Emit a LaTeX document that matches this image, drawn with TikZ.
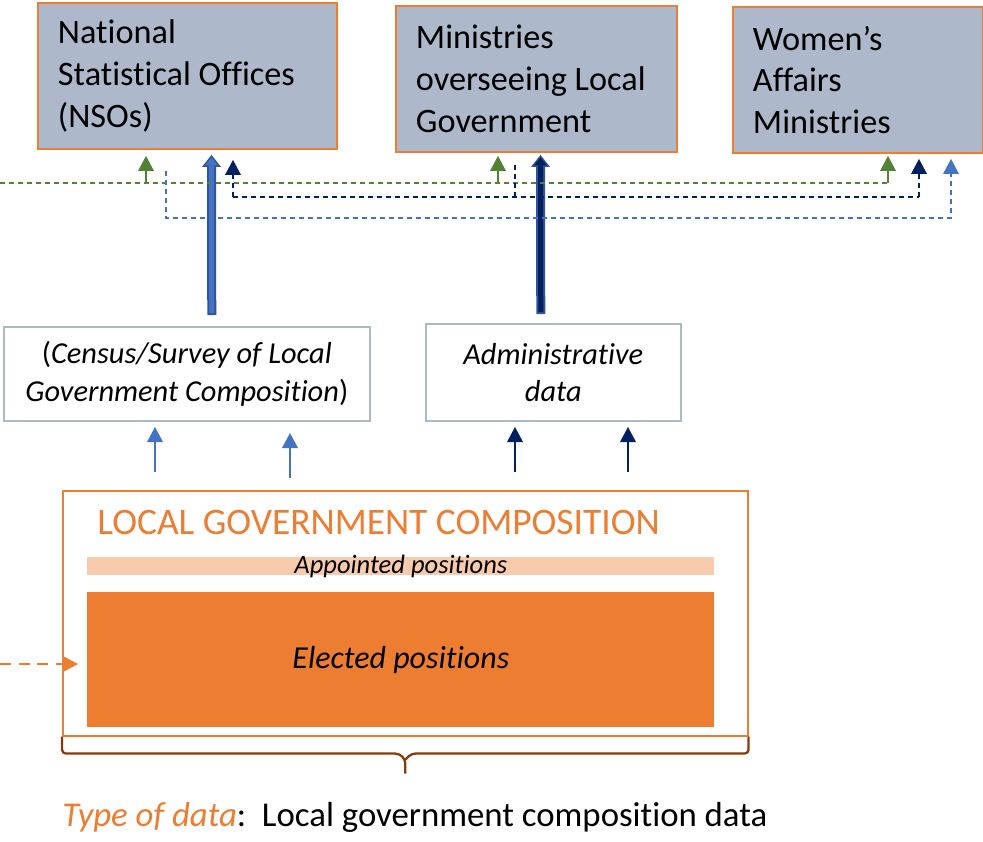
\documentclass[tikz,border=0pt]{standalone}
\usepackage{fontspec}
\setmainfont{Carlito}[Ligatures={NoCommon,NoRare,NoContextual}]
\usetikzlibrary{arrows.meta}

\definecolor{boxgray}{RGB}{173,185,202}
\definecolor{lgcorange}{RGB}{237,125,49}
\definecolor{lightorange}{RGB}{248,203,173}
\definecolor{datagreen}{RGB}{84,130,53}
\definecolor{navy}{RGB}{0,32,96}
\definecolor{midblue}{RGB}{68,114,196}
\definecolor{edgeblue}{RGB}{47,85,151}
\definecolor{bracebrown}{RGB}{132,60,12}

\begin{document}
\begin{tikzpicture}[x=0.2mm,y=-0.2mm,
  agency/.style={draw=lgcorange,line width=1.1pt,fill=boxgray,anchor=north west,
    align=flush left,inner xsep=4mm,inner ysep=0pt,font=\fontsize{19.5}{23.8}\selectfont},
  source/.style={draw=boxgray,line width=0.9pt,anchor=north west,align=center,
    inner sep=0pt,font=\fontsize{17.3}{21.2}\selectfont},
  lane/.style={line width=0.7pt,dash pattern=on 1mm off 0.8mm},
  smalltip/.tip={Triangle[width=3.2mm,length=3mm,line width=0pt]},
  small/.style={line width=1.1pt,-smalltip},
  bigout/.style={line width=1.8mm,-{Triangle[width=3.8mm,length=2.4mm,line width=0pt]}},
  bigin/.style={line width=1mm,-{Triangle[width=2.6mm,length=1.6mm,line width=0pt]},
    shorten >=0.5mm,shorten <=0.4mm}]
\useasboundingbox (0,0) rectangle (983,841);

% agencies
\node[agency,minimum width=59.8mm,minimum height=29.2mm,text width=51.8mm] (nso) at (37,2)
  {National\\Statistical Offices\\(NSOs)};
\node[agency,minimum width=56.2mm,minimum height=29.2mm,text width=48.2mm] (mlg) at (395,5)
  {Ministries\\overseeing Local\\Government};
\node[agency,minimum width=50mm,minimum height=29.2mm,text width=42mm] (wam) at (732,6)
  {Women’s\\Affairs\\Ministries};

% sources
\node[source,minimum width=73.2mm,minimum height=18.8mm] (census) at (3,326)
  {(\textit{Census/Survey of Local}\\\textit{Government Composition})};
\node[source,minimum width=51mm,minimum height=19.4mm] (admin) at (425,323)
  {\textit{Administrative}\\\textit{data}};

% local government composition
\node[draw=lgcorange,line width=0.9pt,anchor=north west,minimum width=137mm,
  minimum height=49mm,inner sep=0pt] (lgc) at (62,490) {};
\node[anchor=west,text=lgcorange,font=\fontsize{21.3}{25}\selectfont,inner sep=0pt]
  (title) at (97,522) {LOCAL GOVERNMENT COMPOSITION};
\node[fill=lightorange,anchor=north west,minimum width=125.4mm,minimum height=3.6mm,
  inner sep=0pt] (app) at (87,557) {};
\node[font=\fontsize{15.1}{18}\selectfont\itshape,inner sep=0pt] at (app) {Appointed positions};
\node[fill=lgcorange,anchor=north west,minimum width=125.4mm,minimum height=27mm,
  inner sep=0pt,font=\fontsize{18.2}{21}\selectfont\itshape] (elec) at (87,592) {Elected positions};

% type of data
\draw[bracebrown,line width=1.3pt,rounded corners=0.8mm] (lgc.south west)
  |- ([xshift=-1.2mm,yshift=-3.4mm]lgc.south) -- ([yshift=-4.6mm]lgc.south)
  -- ([yshift=-7.4mm]lgc.south);
\draw[bracebrown,line width=1.3pt,rounded corners=0.8mm] (lgc.south east)
  |- ([xshift=1.2mm,yshift=-3.4mm]lgc.south) -- ([yshift=-4.6mm]lgc.south);
\node[anchor=base west,inner sep=0pt,font=\fontsize{19.8}{23}\selectfont] (type) at (62,826)
  {\textcolor{lgcorange}{\textit{Type of data}}:\ \ Local government composition data};

% incoming elected data
\coordinate (src) at (0,664);
\draw[lgcorange,line width=1.3pt,dash pattern=on 2.2mm off 1.5mm,-smalltip,shorten >=1.8mm]
  (src) -- (src -| elec.west);

% data flows into sources
\coordinate (c1) at (155,420);
\coordinate (c2) at (290,420);
\coordinate (a1) at (515,420);
\coordinate (a2) at (628,420);
\draw[small,midblue,shorten <=3.6mm,shorten >=1.4mm] (c1 |- lgc.north) -- (c1);
\draw[small,midblue,shorten <=2.4mm,shorten >=2.6mm] (c2 |- lgc.north) -- (c2);
\draw[small,navy,shorten <=3.6mm,shorten >=1.4mm] (a1 |- lgc.north) -- (a1);
\draw[small,navy,shorten <=3.6mm,shorten >=1.4mm] (a2 |- lgc.north) -- (a2);

% sources to agencies
\draw[bigout,edgeblue,shorten <=2.2mm,shorten >=1mm] ([xshift=5mm]census.north) -- ([xshift=4.8mm]nso.south);
\draw[bigin,midblue,shorten <=2.6mm,shorten >=1.5mm] ([xshift=5mm]census.north) -- ([xshift=4.8mm]nso.south);
\draw[bigout,edgeblue,shorten <=1.8mm,shorten >=0.4mm] ([xshift=-2.5mm]admin.north) -- ([xshift=0.8mm]mlg.south);
\draw[bigin,navy,shorten <=2.2mm,shorten >=0.9mm] ([xshift=-2.5mm]admin.north) -- ([xshift=0.8mm]mlg.south);

% green lane
\coordinate (g0) at (0,183);
\coordinate (g1) at (146,183);
\coordinate (g2) at (498,183);
\coordinate (g3) at (888,183);
\draw[lane,datagreen] (g0) -- (g3);
\draw[small,datagreen,shorten >=1.2mm] (g1) -- (g1 |- nso.south);
\draw[small,datagreen,shorten >=0.6mm] (g2) -- (g2 |- mlg.south);
\draw[small,datagreen,shorten >=0.4mm] (g3) -- (g3 |- wam.south);

% navy lane
\coordinate (n1) at (233,197);
\coordinate (n2) at (515,197);
\coordinate (n3) at (919,197);
\draw[lane,navy,line width=0.9pt] (n1) -- (n3);
\draw[lane,navy,line width=0.9pt,-smalltip,shorten >=2mm] (n1) -- (n1 |- nso.south);
\draw[lane,navy,line width=0.9pt,-smalltip,shorten >=1mm] (n3) -- (n3 |- wam.south);
\draw[lane,navy,line width=0.9pt,shorten <=2.4mm] (n2 |- mlg.south) -- (n2);

% blue lane
\coordinate (b1) at (166,218);
\coordinate (b2) at (951,218);
\draw[lane,midblue,shorten <=4.2mm,-smalltip,shorten >=1mm]
  (b1 |- nso.south) -- (b1) -- (b2) -- (b2 |- wam.south);
\end{tikzpicture}
\end{document}
